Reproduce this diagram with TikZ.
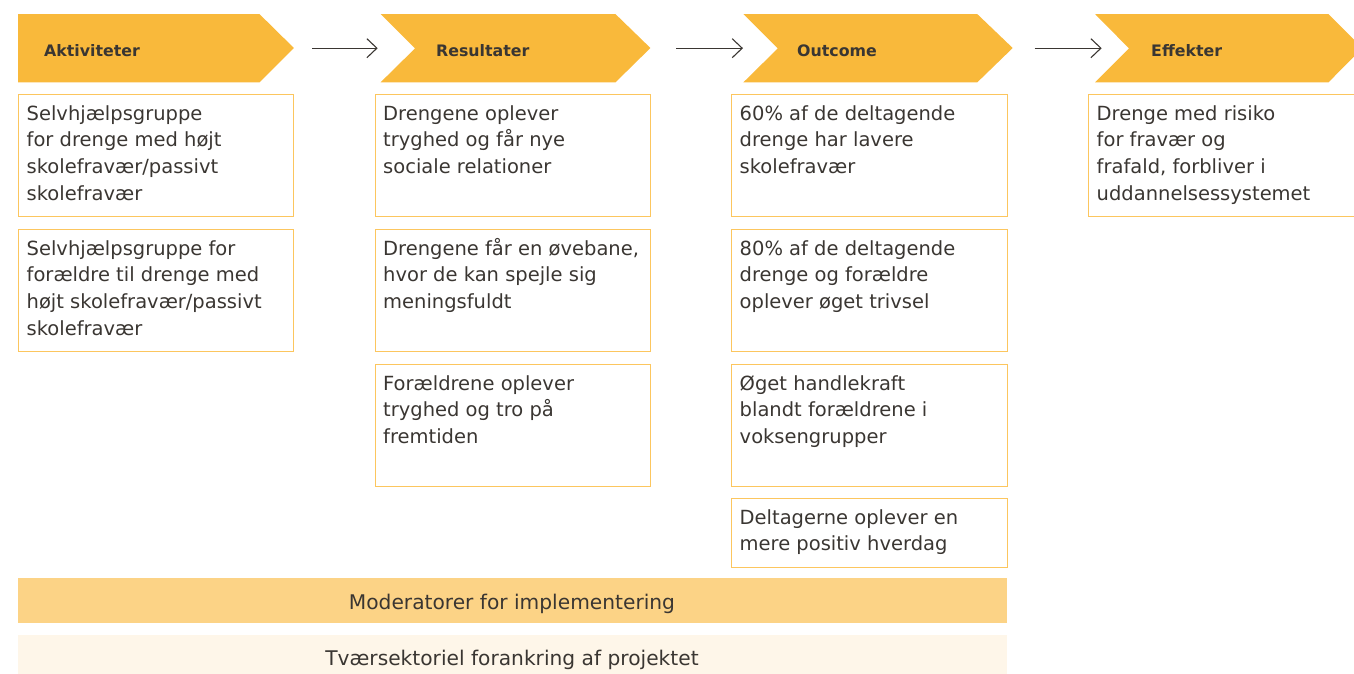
\documentclass[tikz,border=0pt]{standalone}
\usepackage{fontspec}
\setmainfont{DejaVu Sans}
\usetikzlibrary{arrows.meta}

\definecolor{hdr}{HTML}{F9B93B}
\definecolor{bord}{HTML}{FCC65E}
\definecolor{modfill}{HTML}{FCD386}
\definecolor{basefill}{HTML}{FEF6E9}
\definecolor{ink}{HTML}{3A3632}

\tikzset{
  hdrnode/.style={draw=none, inner sep=0pt, anchor=north west, minimum height=68pt},
  hdrlabel/.style={anchor=base west, inner sep=0pt, text=ink,
    font=\fontsize{15.8}{19}\selectfont\bfseries},
  obox/.style={draw=bord, line width=1.4pt, inner sep=0pt, anchor=north west,
    minimum height=122pt},
  btext/.style={anchor=north west, inner sep=0pt, align=left, text=ink,
    font=\fontsize{19.5}{26.7}\selectfont},
  bartext/.style={anchor=base, inner sep=0pt, text=ink,
    font=\fontsize{20.2}{24}\selectfont},
  flow/.style={draw=ink, line width=1.1pt, -{Straight Barb[length=10pt,width=19pt]}},
}
\newcommand{\firstline}{\rule{0pt}{20pt}}

\begin{document}
\begin{tikzpicture}[x=1pt,y=-1pt]
\useasboundingbox (0,0) rectangle (1354,673);
\clip (0,0) rectangle (1354,673);

% ---- header chevrons ----
\node[hdrnode, minimum width=241pt] (h1) at (18,14) {};
\node[hdrnode, minimum width=234.5pt] (h2) at (380.5,14) {};
\node[hdrnode, minimum width=233.5pt] (h3) at (743.3,14) {};
\node[hdrnode, minimum width=233pt] (h4) at (1095,14) {};

\fill[hdr] (h1.north west) -- (h1.north east) -- ++(34.5,34) -- (h1.south east) -- (h1.south west) -- cycle;
\fill[hdr] (h2.north west) -- (h2.north east) -- ++(35,34) -- (h2.south east) -- (h2.south west) -- ++(34.5,-34) -- cycle;
\fill[hdr] (h3.north west) -- (h3.north east) -- ++(35.5,34) -- (h3.south east) -- (h3.south west) -- ++(34.5,-34) -- cycle;
\fill[hdr] (h4.north west) -- (h4.north east) -- ++(34,34) -- (h4.south east) -- (h4.south west) -- ++(34,-34) -- cycle;

\node[hdrlabel] (l1) at (44,56) {Aktiviteter};
\node[hdrlabel] (l2) at (436,56) {Resultater};
\node[hdrlabel] (l3) at (797,56) {Outcome};
\node[hdrlabel] (l4) at (1151,56) {Effekter};

% ---- arrows between stages ----
\draw[flow, shorten <=52.7pt, shorten >=2.8pt] (h1.east) -- (h2.west);
\draw[flow, shorten <=61pt, shorten >=0.3pt] (h2.east) -- (h3.west);
\draw[flow, shorten <=57.3pt, shorten >=-6.7pt] (h3.east) -- (h4.west);

% ---- column 1: Aktiviteter ----
\node[obox, minimum width=275pt] (a1) at (18,94) {};
\node[obox, minimum width=275pt] (a2) at (18,229) {};
\node[btext] at ([shift={(8.5,6)}]a1.north west) {\firstline Selvhjælpsgruppe\\for drenge med højt\\skolefravær/passivt\\skolefravær};
\node[btext] at ([shift={(8.5,6)}]a2.north west) {\firstline Selvhjælpsgruppe for\\forældre til drenge med\\højt skolefravær/passivt\\skolefravær};

% ---- column 2: Resultater ----
\node[obox, minimum width=275.5pt] (r1) at (374.5,94) {};
\node[obox, minimum width=275.5pt] (r2) at (374.5,229) {};
\node[obox, minimum width=275.5pt] (r3) at (374.5,364) {};
\node[btext] at ([shift={(8.5,6)}]r1.north west) {\firstline Drengene oplever\\tryghed og får nye\\sociale relationer};
\node[btext] at ([shift={(8.5,6)}]r2.north west) {\firstline Drengene får en øvebane,\\hvor de kan spejle sig\\meningsfuldt};
\node[btext] at ([shift={(8.5,6)}]r3.north west) {\firstline Forældrene oplever\\tryghed og tro på\\fremtiden};

% ---- column 3: Outcome ----
\node[obox, minimum width=275.5pt] (o1) at (731,94) {};
\node[obox, minimum width=275.5pt] (o2) at (731,229) {};
\node[obox, minimum width=275.5pt] (o3) at (731,364) {};
\node[obox, minimum width=275.5pt, minimum height=68.5pt] (o4) at (731,498) {};
\node[btext] at ([shift={(8.5,6)}]o1.north west) {\firstline 60\% af de deltagende\\drenge har lavere\\skolefravær};
\node[btext] at ([shift={(8.5,6)}]o2.north west) {\firstline 80\% af de deltagende\\drenge og forældre\\oplever øget trivsel};
\node[btext] at ([shift={(8.5,6)}]o3.north west) {\firstline Øget handlekraft\\blandt forældrene i\\voksengrupper};
\node[btext] at ([shift={(8.5,6)}]o4.north west) {\firstline Deltagerne oplever en\\mere positiv hverdag};

% ---- column 4: Effekter ----
\node[obox, minimum width=300pt] (e1) at (1088,94) {};
\node[btext] at ([shift={(8.5,6)}]e1.north west) {\firstline Drenge med risiko\\for fravær og\\frafald, forbliver i\\uddannelsessystemet};

% ---- bottom bands ----
\node[fill=modfill, draw=none, inner sep=0pt, anchor=north west,
      minimum width=988.5pt, minimum height=44.5pt] (mod) at (18,578) {};
\node[bartext] at (512,609.5) {Moderatorer for implementering};
\node[fill=basefill, draw=none, inner sep=0pt, anchor=north west,
      minimum width=988.5pt, minimum height=45pt] (base) at (18,635) {};
\node[bartext] at (512,665) {Tværsektoriel forankring af projektet};
\end{tikzpicture}
\end{document}
